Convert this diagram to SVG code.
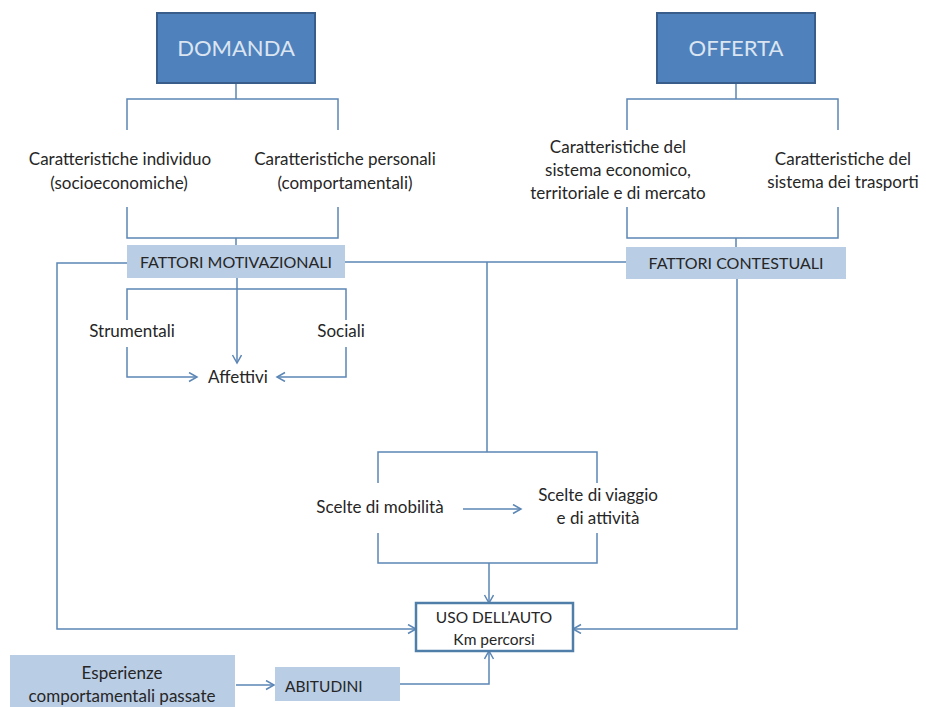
<svg xmlns="http://www.w3.org/2000/svg" width="926" height="707" viewBox="0 0 926 707">
<style>
.t{font-family:Lato,"Open Sans","Liberation Sans",sans-serif;font-size:17px;fill:#262626;text-anchor:middle}
.s{font-size:16px}
.u{font-size:15.5px}
.h{font-family:Lato,"Open Sans","Liberation Sans",sans-serif;font-size:22px;fill:#dbe5f1;text-anchor:middle}
.dark{fill:#4f81bd;stroke:#385d8a;stroke-width:2}
.light{fill:#b9cde5}
.ln{fill:none;stroke:#5b86b5;stroke-width:1.5}
.ar{marker-end:url(#a)}
</style>
<defs>
<marker id="a" markerUnits="userSpaceOnUse" markerWidth="12" markerHeight="12" refX="9" refY="5" orient="auto">
<path d="M1,0.5 L9,5 L1,9.5" fill="none" stroke="#5b86b5" stroke-width="1.5"/>
</marker>
</defs>
<rect width="926" height="707" fill="#ffffff"/>
<g id="connectors">
<path class="ln" d="M236,83 V99 M127,130 V99 H338 V130"/>
<path class="ln" d="M127,207 V238 H338 V207 M236,238 V245"/>
<path class="ln" d="M736,83 V99 M627,130 V99 H838 V130"/>
<path class="ln" d="M627,207 V238 H838 V207 M736,238 V247"/>
<path class="ln ar" d="M237,278 V363"/>
<path class="ln" d="M127,320 V289 H346 V320"/>
<path class="ln ar" d="M127,347 V377 H197"/>
<path class="ln ar" d="M346,347 V377 H277"/>
<path class="ln ar" d="M127,263 H57 V629 H416"/>
<path class="ln" d="M345,262 H626"/>
<path class="ln" d="M487,262 V452 M378,483 V452 H597 V483"/>
<path class="ln" d="M378,533 V563 H597 V533"/>
<path class="ln ar" d="M463,509 H521"/>
<path class="ln ar" d="M489,563 V603"/>
<path class="ln ar" d="M737,279 V629 H573"/>
<path class="ln ar" d="M236,685 H274"/>
<path class="ln ar" d="M400,684 H489 V651"/>
</g>
<g id="domanda"><rect class="dark" x="157" y="13" width="158" height="70"/><text class="h" x="236" y="56">DOMANDA</text></g>
<g id="offerta"><rect class="dark" x="657" y="13" width="158" height="70"/><text class="h" x="736" y="56">OFFERTA</text></g>
<g id="car-individuo"><text class="t" x="120" y="165">Caratteristiche individuo</text><text class="t" x="119" y="189">(socioeconomiche)</text></g>
<g id="car-personali"><text class="t" x="345" y="165">Caratteristiche personali</text><text class="t" x="345" y="189">(comportamentali)</text></g>
<g id="car-economico"><text class="t" x="618" y="153">Caratteristiche del</text><text class="t" x="618" y="176">sistema economico,</text><text class="t" x="618" y="199">territoriale e di mercato</text></g>
<g id="car-trasporti"><text class="t" x="843" y="165">Caratteristiche del</text><text class="t" x="843" y="188">sistema dei trasporti</text></g>
<g id="fattori-motivazionali"><rect class="light" x="127" y="245" width="218" height="33"/><text class="t s" x="236" y="268">FATTORI MOTIVAZIONALI</text></g>
<g id="fattori-contestuali"><rect class="light" x="626" y="247" width="220" height="32"/><text class="t s" x="736" y="269">FATTORI CONTESTUALI</text></g>
<g id="strumentali"><text class="t" x="132" y="337">Strumentali</text></g>
<g id="sociali"><text class="t" x="341" y="337">Sociali</text></g>
<g id="affettivi"><text class="t" x="238" y="383">Affettivi</text></g>
<g id="scelte-mobilita"><text class="t" x="380" y="513">Scelte di mobilità</text></g>
<g id="scelte-viaggio"><text class="t" x="598" y="501">Scelte di viaggio</text><text class="t" x="598" y="524">e di attività</text></g>
<g id="uso-auto"><rect x="416" y="603" width="157" height="48" fill="#ffffff" stroke="#4f7fa8" stroke-width="2.5"/><text class="t u" x="494" y="623">USO DELL’AUTO</text><text class="t u" x="494" y="645">Km percorsi</text></g>
<g id="esperienze"><rect class="light" x="10" y="655" width="225" height="52"/><text class="t" x="122" y="679">Esperienze</text><text class="t" x="122" y="702">comportamentali passate</text></g>
<g id="abitudini"><rect class="light" x="275" y="667" width="125" height="34"/><text class="t u" x="285" y="692" style="text-anchor:start">ABITUDINI</text></g>
</svg>
